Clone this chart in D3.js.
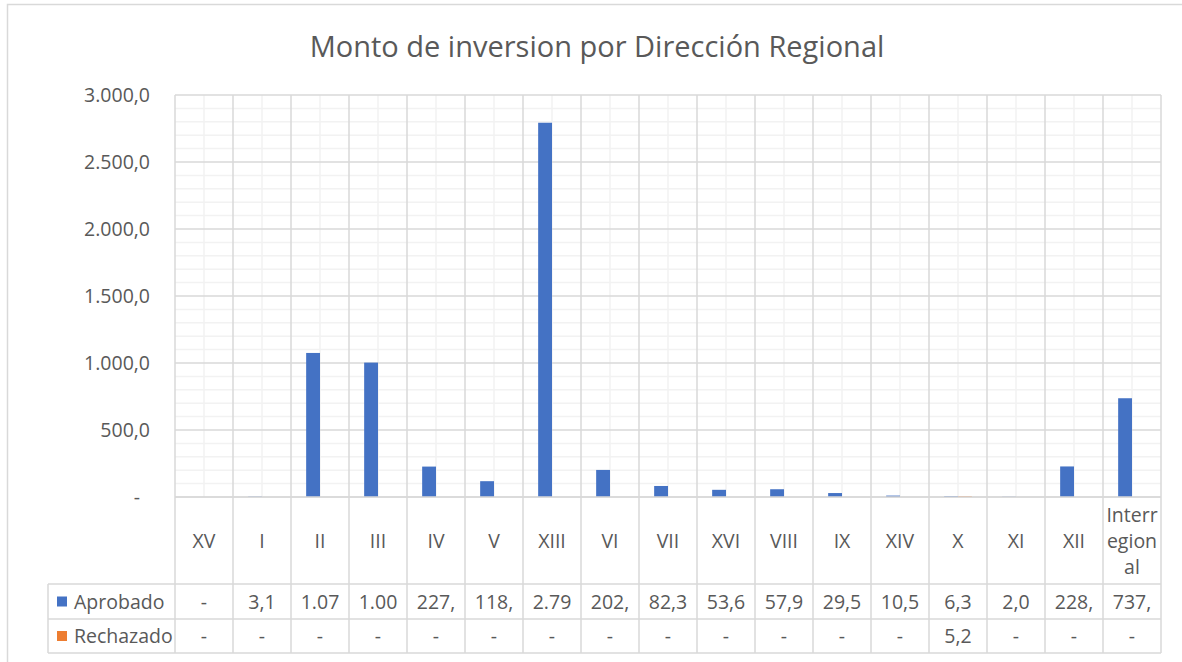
<!DOCTYPE html>
<html>
<head>
<meta charset="utf-8">
<script src="https://cdn.jsdelivr.net/npm/d3@7"></script>
<style>
  body { margin: 0; background: #fff; }
  svg { font-family: "Segoe UI", "Open Sans", sans-serif; }
</style>
</head>
<body>
<div id="chart"></div>
<script>
// Data
var regiones = ["XV", "I", "II", "III", "IV", "V", "XIII", "VI", "VII", "XVI", "VIII", "IX", "XIV", "X", "XI", "XII", "Interregional"];
var aprobado = [0, 3.1, 1075.0, 1003.0, 227.0, 118.0, 2793.0, 202.0, 82.3, 53.6, 57.9, 29.5, 10.5, 6.3, 2.0, 228.0, 737.0];
var rechazado = [0, 0, 0, 0, 0, 0, 0, 0, 0, 0, 0, 0, 0, 5.2, 0, 0, 0];
var series = ["Aprobado", "Rechazado"];
var colores = ["#4472C4", "#ED7D31"];
var yTicks = [0, 500, 1000, 1500, 2000, 2500, 3000];

// Layout
var W = 1182, H = 662;
var plot = {left: 175, right: 1161, top: 95, bottom: 497};
var tableLeft = 48;
var rowCat = 584, rowA = 619, rowB = 653;
var textColor = "#595959";
var major = "#d9d9d9", minor = "#f2f2f2";
var fs = 19.5;

// Number format like Excel "#.##0,0" with "-" for zero
var locale = d3.formatLocale({decimal: ",", thousands: ".", grouping: [3], currency: ["", ""]});
var fmt = locale.format(",.1f");
function excelFmt(v) { return v === 0 ? "-" : fmt(v); }

// Scales
var x = d3.scaleBand().domain(regiones).range([plot.left, plot.right]).paddingInner(0).paddingOuter(0);
var bw = x.bandwidth();
var barW = bw / (2 + 2.19);
var gap = bw - 2 * barW;
var xs = d3.scaleBand().domain(series).range([gap / 2, bw - gap / 2]);
var y = d3.scaleLinear().domain([0, 3000]).range([plot.bottom, plot.top]);

var svg = d3.select("#chart").append("svg")
  .attr("width", W)
  .attr("height", H);

// Chart border
svg.append("path")
  .attr("d", "M7.5," + H + "V4.5H" + W)
  .attr("fill", "none")
  .attr("stroke", major)
  .attr("stroke-width", 1.5);

// Title
svg.append("text")
  .attr("x", 597)
  .attr("y", 57)
  .attr("text-anchor", "middle")
  .attr("fill", textColor)
  .attr("font-size", 29)
  .text("Monto de inversion por Dirección Regional");

// Minor gridlines (horizontal)
svg.append("g").selectAll("line")
  .data(y.ticks(30).filter(function(d) { return d % 500 !== 0; }))
  .enter().append("line")
  .attr("x1", plot.left).attr("x2", plot.right)
  .attr("y1", function(d) { return y(d); })
  .attr("y2", function(d) { return y(d); })
  .attr("stroke", minor).attr("stroke-width", 1.5);

// Minor gridlines (vertical, category centres)
svg.append("g").selectAll("line")
  .data(regiones)
  .enter().append("line")
  .attr("x1", function(d) { return x(d) + bw / 2; })
  .attr("x2", function(d) { return x(d) + bw / 2; })
  .attr("y1", plot.top).attr("y2", plot.bottom)
  .attr("stroke", minor).attr("stroke-width", 1.5);

// Major gridlines
svg.append("g").selectAll("line")
  .data(yTicks)
  .enter().append("line")
  .attr("x1", plot.left).attr("x2", plot.right)
  .attr("y1", function(d) { return y(d); })
  .attr("y2", function(d) { return y(d); })
  .attr("stroke", major).attr("stroke-width", 1.5);

var bounds = regiones.map(function(d) { return x(d); }).concat([plot.right]);
svg.append("g").selectAll("line")
  .data(bounds)
  .enter().append("line")
  .attr("x1", function(d) { return d; })
  .attr("x2", function(d) { return d; })
  .attr("y1", plot.top)
  .attr("y2", rowB)
  .attr("stroke", major).attr("stroke-width", 1.5);

// Y axis labels
var yAxis = d3.axisLeft(y).tickValues(yTicks).tickSize(0).tickPadding(0)
  .tickFormat(excelFmt);
var gy = svg.append("g")
  .attr("transform", "translate(" + (plot.left - 25) + ",0)")
  .call(yAxis)
  .attr("font-family", null)
  .attr("font-size", fs);
gy.select(".domain").remove();
gy.selectAll("text")
  .attr("fill", textColor)
  .attr("dx", function(d) { return d === 0 ? -10 : 0; });

// Bars
var allSeries = [aprobado, rechazado];
allSeries.forEach(function(vals, si) {
  svg.append("g").selectAll("rect")
    .data(vals)
    .enter().append("rect")
    .attr("x", function(d, i) { return x(regiones[i]) + xs(series[si]); })
    .attr("width", xs.bandwidth())
    .attr("y", function(d) { return y(d); })
    .attr("height", function(d) { return y(0) - y(d); })
    .attr("fill", colores[si]);
});

// Data table horizontal lines
[plot.bottom, rowCat, rowA, rowB].forEach(function(yy, i) {
  svg.append("line")
    .attr("x1", i === 0 ? plot.left : tableLeft).attr("x2", plot.right)
    .attr("y1", yy).attr("y2", yy)
    .attr("stroke", major).attr("stroke-width", 1.5);
});
svg.append("line")
  .attr("x1", tableLeft).attr("x2", tableLeft)
  .attr("y1", rowCat).attr("y2", rowB)
  .attr("stroke", major).attr("stroke-width", 1.5);

// Category labels (wrapped like Excel)
function wrapLabel(s) {
  if (s === "Interregional") return ["Interr", "egion", "al"];
  return [s];
}
var cats = svg.append("g").selectAll("text")
  .data(regiones)
  .enter().append("text")
  .attr("x", function(d) { return x(d) + bw / 2; })
  .attr("y", function(d) { return (plot.bottom + rowCat) / 2 + 7 - (wrapLabel(d).length - 1) * 13; })
  .attr("text-anchor", "middle")
  .attr("fill", textColor)
  .attr("font-size", fs);
cats.each(function(d) {
  var t = d3.select(this);
  wrapLabel(d).forEach(function(part, k) {
    t.append("tspan")
      .attr("x", x(d) + bw / 2)
      .attr("dy", k === 0 ? 0 : 26)
      .text(part);
  });
});

// Legend keys + values rows
var rowsY = [[rowCat, rowA], [rowA, rowB]];
allSeries.forEach(function(vals, si) {
  var mid = (rowsY[si][0] + rowsY[si][1]) / 2;
  svg.append("rect")
    .attr("x", 57).attr("y", mid - 5)
    .attr("width", 10).attr("height", 10)
    .attr("fill", colores[si]);
  svg.append("text")
    .attr("x", 74).attr("y", mid + 7)
    .attr("fill", textColor)
    .attr("font-size", fs)
    .text(series[si]);

  svg.append("g").selectAll("text")
    .data(vals)
    .enter().append("text")
    .attr("x", function(d, i) { return x(regiones[i]) + bw / 2; })
    .attr("y", mid + 7)
    .attr("text-anchor", "middle")
    .attr("fill", textColor)
    .attr("font-size", fs)
    .text(function(d) { return excelFmt(d); })
    .each(function() {
      // Excel clips text that doesn't fit the cell
      var el = this, s = el.textContent;
      while (el.getComputedTextLength() > bw - 12 && s.length > 1) {
        s = s.slice(0, -1);
        el.textContent = s;
      }
    });
});
</script>
</body>
</html>
